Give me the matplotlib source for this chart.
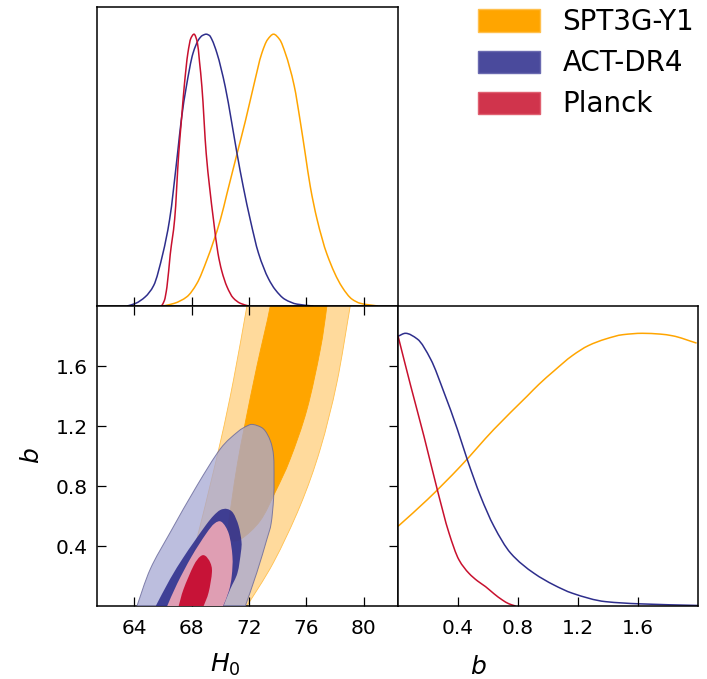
import numpy as np
import matplotlib
matplotlib.use("Agg")
import matplotlib.pyplot as plt
from matplotlib.path import Path
from matplotlib.patches import Patch, PathPatch

# 1D marginal of H0 (peak normalised to 1)
h0_planck = [65.9, 66.1, 66.28, 66.51, 66.82, 67.1, 67.3, 67.49, 67.74, 67.95, 68.17,
             68.4, 68.55, 68.72, 69.02, 69.25, 69.53, 69.84, 70.1, 70.47, 70.9, 71.4, 72.0]
p_h0_planck = [0.0, 0.02, 0.07, 0.19, 0.32, 0.56, 0.69, 0.81, 0.93, 0.985, 1.0,
               0.97, 0.90, 0.806, 0.561, 0.44, 0.316, 0.194, 0.13, 0.071, 0.03, 0.01, 0.0]

h0_act = [63.5, 64.1, 64.77, 65.35, 66.0, 66.46, 67.02, 67.28, 67.63, 68.1, 68.49, 68.75,
          69.02, 69.25, 69.42, 69.77, 70.35, 70.77, 71.17, 71.6, 72.1, 72.67, 73.37, 73.84,
          74.5, 75.35, 76.5]
p_h0_act = [0.0, 0.01, 0.034, 0.075, 0.194, 0.316, 0.561, 0.684, 0.806, 0.93, 0.98, 0.995,
            1.0, 0.995, 0.98, 0.93, 0.806, 0.684, 0.561, 0.44, 0.316, 0.194, 0.10, 0.06,
            0.025, 0.007, 0.0]

h0_spt = [66.0, 66.8, 67.67, 68.37, 69.07, 70.0, 70.47, 71.17, 71.75, 72.33, 72.9, 73.3,
          73.72, 74.15, 74.54, 75.16, 75.58, 75.93, 76.28, 76.75, 77.45, 78.5, 79.2,
          79.77, 81.0]
p_h0_spt = [0.0, 0.01, 0.034, 0.083, 0.17, 0.316, 0.414, 0.56, 0.68, 0.81, 0.93, 0.98,
            1.0, 0.98, 0.93, 0.81, 0.68, 0.56, 0.44, 0.32, 0.19, 0.07, 0.025, 0.01, 0.0]

# 1D marginal of b
b_act = [0.0, 0.05, 0.129, 0.218, 0.307, 0.396, 0.462, 0.551, 0.64, 0.751, 0.907,
         1.04, 1.162, 1.384, 1.607, 2.0]
p_b_act = [0.989, 1.0, 0.979, 0.905, 0.783, 0.648, 0.537, 0.402, 0.292, 0.194, 0.12,
           0.077, 0.047, 0.016, 0.008, 0.002]

b_planck = [0.0, 0.085, 0.173, 0.262, 0.34, 0.407, 0.473, 0.53, 0.584, 0.64, 0.696, 0.74, 0.784]
p_b_planck = [0.991, 0.807, 0.623, 0.427, 0.268, 0.169, 0.12, 0.092, 0.071, 0.045, 0.022, 0.008, 0.0]

b_spt = [0.0, 0.196, 0.418, 0.64, 0.862, 0.94, 1.04, 1.162, 1.27, 1.384, 1.5, 1.629,
         1.75, 1.829, 1.991]
p_b_spt = [0.292, 0.39, 0.513, 0.648, 0.77, 0.813, 0.862, 0.918, 0.955, 0.979, 0.995,
           1.0, 0.997, 0.991, 0.964]

# 2D credible regions in the (H0, b) plane, outer = 95%, inner = 68%
# SPT bands: left edge (top -> bottom) and right edge (bottom -> top)
spt_outer_left_h0 = [72.43, 71.86, 70.93, 70.0, 68.6, 67.15]
spt_outer_left_b = [2.3, 2.0, 1.51, 1.09, 0.535, 0.0]
spt_outer_right_h0 = [71.86, 73.72, 75.58, 76.98, 78.14, 79.07, 79.62]
spt_outer_right_b = [0.0, 0.291, 0.669, 1.047, 1.49, 2.0, 2.3]
spt_inner_h0 = [73.95, 73.49, 72.56, 71.74, 71.2, 70.8, 70.55, 70.7, 71.5, 72.8,
                73.84, 74.88, 76.05, 76.98, 77.44, 77.8]
spt_inner_b = [2.3, 2.0, 1.6, 1.22, 0.95, 0.7, 0.52, 0.44, 0.45, 0.57,
               0.76, 0.98, 1.31, 1.71, 2.0, 2.3]

act_outer_h0 = [64.19, 65.12, 66.51, 68.37, 70.0, 71.2, 71.86, 72.3, 73.02, 73.5, 73.72,
                73.75, 73.72, 73.55, 73.26, 72.56, 71.75]
act_outer_b = [0.0, 0.247, 0.491, 0.802, 1.047, 1.16, 1.2, 1.21, 1.18, 1.1, 1.0,
               0.85, 0.713, 0.55, 0.447, 0.225, 0.0]
act_inner_h0 = [65.5, 66.5, 67.4, 68.14, 69.0, 69.53, 70.0, 70.47, 70.9, 71.28, 71.48,
                71.44, 71.2, 70.7, 70.23]
act_inner_b = [0.0, 0.18, 0.32, 0.424, 0.54, 0.602, 0.64, 0.647, 0.62, 0.535, 0.43,
               0.358, 0.22, 0.113, 0.0]

planck_outer_h0 = [66.3, 67.0, 68.0, 69.0, 69.6, 70.1, 70.6, 70.85, 70.8, 70.6, 70.2]
planck_outer_b = [0.0, 0.15, 0.33, 0.48, 0.55, 0.56, 0.48, 0.33, 0.2, 0.1, 0.0]
planck_inner_h0 = [67.1, 67.44, 68.14, 68.6, 68.95, 69.3, 69.42, 69.19, 68.84]
planck_inner_b = [0.0, 0.113, 0.269, 0.33, 0.335, 0.29, 0.225, 0.091, 0.0]

labels = ["SPT3G-Y1", "ACT-DR4", "Planck"]

# colours
spt_line = "#FFA500"
act_line = "#2E2E8C"
planck_line = "#C8102E"


def pchip_path(x, y):
    """Smooth monotone cubic path through (x, y) drawn as Bezier segments."""
    x = np.asarray(x, float)
    y = np.asarray(y, float)
    h = np.diff(x)
    d = np.diff(y) / h
    m = np.zeros_like(x)
    m[0], m[-1] = d[0], d[-1]
    for i in range(1, len(x) - 1):
        if d[i - 1] * d[i] > 0:
            w1 = 2 * h[i] + h[i - 1]
            w2 = h[i] + 2 * h[i - 1]
            m[i] = (w1 + w2) / (w1 / d[i - 1] + w2 / d[i])
    verts = [(x[0], y[0])]
    codes = [Path.MOVETO]
    for i in range(len(x) - 1):
        verts += [(x[i] + h[i] / 3, y[i] + m[i] * h[i] / 3),
                  (x[i + 1] - h[i] / 3, y[i + 1] - m[i + 1] * h[i] / 3),
                  (x[i + 1], y[i + 1])]
        codes += [Path.CURVE4] * 3
    return Path(verts, codes)


def catmull_rom(xs, ys, first=True):
    """Bezier vertices of a Catmull-Rom curve through the points."""
    p = np.column_stack([xs, ys]).astype(float)
    ext = np.vstack([p[0], p, p[-1]])
    verts = [tuple(p[0])]
    codes = [Path.MOVETO if first else Path.LINETO]
    for i in range(len(p) - 1):
        p0, p1, p2, p3 = ext[i], ext[i + 1], ext[i + 2], ext[i + 3]
        verts += [tuple(p1 + (p2 - p0) / 6), tuple(p2 - (p3 - p1) / 6), tuple(p2)]
        codes += [Path.CURVE4] * 3
    return verts, codes


def region(ax, pieces, **kw):
    verts, codes = [], []
    for k, (xs, ys) in enumerate(pieces):
        v, c = catmull_rom(xs, ys, first=(k == 0))
        verts += v
        codes += c
    verts.append(verts[0])
    codes.append(Path.CLOSEPOLY)
    ax.add_patch(PathPatch(Path(verts, codes), **kw))


def curve(ax, x, y, color):
    ax.add_patch(PathPatch(pchip_path(x, y), facecolor="none", edgecolor=color, lw=1.1))


plt.rcParams["font.family"] = "DejaVu Sans"
plt.rcParams["mathtext.fontset"] = "dejavusans"

fig = plt.figure(figsize=(7.07, 6.79), dpi=100)
ax_h0 = fig.add_axes([0.1372, 0.5493, 0.4257, 0.4404])
ax_2d = fig.add_axes([0.1372, 0.1075, 0.4257, 0.4418])
ax_b = fig.add_axes([0.5629, 0.1075, 0.4243, 0.4418])

h0_lim = (61.4, 82.4)
b_lim = (0.0, 2.0)
h0_ticks = [64, 68, 72, 76, 80]
b_ticks = [0.4, 0.8, 1.2, 1.6]

for ax in (ax_h0, ax_2d, ax_b):
    for sp in ax.spines.values():
        sp.set_linewidth(1.1)
    ax.tick_params(direction="in", length=6.5, width=0.9, labelsize=14.5)

# top: H0 marginal
curve(ax_h0, h0_spt, p_h0_spt, spt_line)
curve(ax_h0, h0_act, p_h0_act, act_line)
curve(ax_h0, h0_planck, p_h0_planck, planck_line)
ax_h0.set_xlim(*h0_lim)
ax_h0.set_ylim(0, 1.1)
ax_h0.set_xticks(h0_ticks)
ax_h0.set_yticks([])
ax_h0.tick_params(labelbottom=False)

# bottom-left: 2D contours
region(ax_2d, [(spt_outer_left_h0, spt_outer_left_b), (spt_outer_right_h0, spt_outer_right_b)],
       facecolor="#FFDA9C", edgecolor="#FFC04D", lw=0.6, zorder=1)
region(ax_2d, [(spt_inner_h0, spt_inner_b)],
       facecolor="#FFA500", edgecolor="#FFA500", lw=0.6, zorder=2)
region(ax_2d, [(act_outer_h0, act_outer_b)], facecolor=(0.65, 0.66, 0.83, 0.75),
       edgecolor=(0.40, 0.40, 0.60, 0.8), lw=0.7, zorder=3)
region(ax_2d, [(act_inner_h0, act_inner_b)], facecolor=(0.14, 0.14, 0.53, 0.82),
       edgecolor="none", zorder=4)
region(ax_2d, [(planck_outer_h0, planck_outer_b)], facecolor=(0.99, 0.69, 0.73, 0.85),
       edgecolor="none", zorder=5)
region(ax_2d, [(planck_inner_h0, planck_inner_b)], facecolor=(0.77, 0.0, 0.15, 0.88),
       edgecolor="none", zorder=6)
ax_2d.set_xlim(*h0_lim)
ax_2d.set_ylim(*b_lim)
ax_2d.set_xticks(h0_ticks)
ax_2d.set_yticks(b_ticks)
ax_2d.set_yticklabels(["0.4", "0.8", "1.2", "1.6"])
ax_2d.tick_params(top=True, right=True)
ax_2d.tick_params(axis="x", pad=9)
ax_2d.tick_params(axis="y", pad=6.5)

# bottom-right: b marginal
curve(ax_b, b_spt, p_b_spt, spt_line)
curve(ax_b, b_act, p_b_act, act_line)
curve(ax_b, b_planck, p_b_planck, planck_line)
ax_b.set_xlim(*b_lim)
ax_b.set_ylim(0, 1.1)
ax_b.set_xticks(b_ticks)
ax_b.set_xticklabels(["0.4", "0.8", "1.2", "1.6"])
ax_b.set_yticks([])
ax_b.tick_params(axis="x", pad=9)

# axis labels
fig.text(225 / 707, 1 - 672 / 679, "$H_0$", fontsize=18, ha="center", va="baseline")
fig.text(478 / 707, 1 - 674 / 679, "$b$", fontsize=18, ha="center", va="baseline")
fig.text(32 / 707, 1 - 456 / 679, "$b$", fontsize=18, ha="center", va="center", rotation=90)

handles = [Patch(facecolor="#FFA500", edgecolor="#FFC04D"),
           Patch(facecolor="#4A4A9C", edgecolor="#6A6AB0"),
           Patch(facecolor="#D0344C", edgecolor="#E06070")]
fig.legend(handles, labels, loc="upper left", bbox_to_anchor=(459 / 707, 1.0165),
           frameon=False, fontsize=20, handlelength=2.23, handleheight=0.86,
           labelspacing=0.47, handletextpad=0.8, borderaxespad=0.3)

fig.savefig("out.png", dpi=100)
